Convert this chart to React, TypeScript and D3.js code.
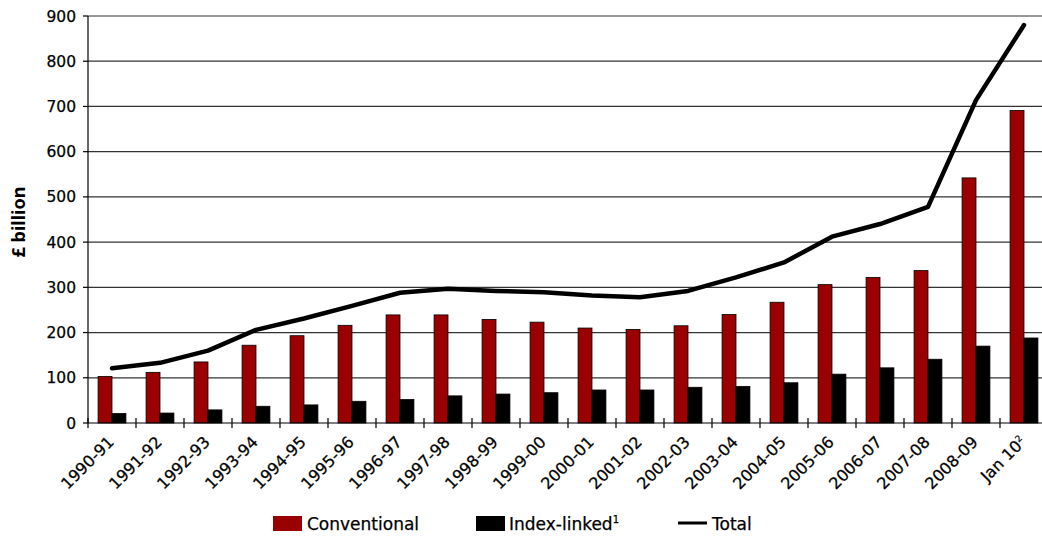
import React from "react";
import * as d3 from "d3";

const categories = [
  "1990-91", "1991-92", "1992-93", "1993-94", "1994-95", "1995-96", "1996-97",
  "1997-98", "1998-99", "1999-00", "2000-01", "2001-02", "2002-03", "2003-04",
  "2004-05", "2005-06", "2006-07", "2007-08", "2008-09", "Jan 10",
];
const conventional = [103, 112, 135, 172, 193, 216, 239, 239, 229, 223, 210, 207, 215, 240, 267, 306, 322, 337, 542, 691];
const indexLinked = [21, 22, 29, 37, 40, 48, 52, 60, 64, 67, 73, 73, 79, 81, 89, 108, 122, 141, 170, 188];
const total = [121, 133, 160, 206, 231, 259, 288, 297, 292, 289, 282, 278, 292, 322, 355, 412, 440, 478, 714, 880];
const yTicks = [0, 100, 200, 300, 400, 500, 600, 700, 800, 900];

const W = 1042;
const H = 537;
const left = 88;
const right = 1048;
const top = 16;
const bottom = 423;
const font = "'DejaVu Sans', Verdana, sans-serif";
const RED = "#9b0000";

export default function App() {
  const x = d3.scaleBand<string>().domain(categories).range([left, right]);
  const y = d3.scaleLinear().domain([0, 900]).range([bottom, top]);
  const bw = x.bandwidth();
  const barW = bw * 0.29;
  const line = d3
    .line<number>()
    .x((_, i) => (x(categories[i]) as number) + bw / 2)
    .y((d) => y(d));

  return (
    <svg width={W} height={H} style={{ position: "absolute", left: 0, top: 0, fontFamily: font }}>
      <rect x={0} y={0} width={W} height={H} fill="#fff" />
      {yTicks.map((t) => (
        <g key={t}>
          {t > 0 && <line x1={left} x2={right} y1={y(t)} y2={y(t)} stroke="#333" strokeWidth={1.2} />}
          <line x1={left - 5} x2={left} y1={y(t)} y2={y(t)} stroke="#000" strokeWidth={1.2} />
          <text x={left - 12} y={y(t)} dy="0.36em" textAnchor="end" fontSize={15.5} fill="#000" stroke="#000" strokeWidth={0.25}>
            {t}
          </text>
        </g>
      ))}
      {categories.map((c, i) => {
        const x0 = x(c) as number;
        const cx = x0 + bw / 2;
        return (
          <g key={c}>
            <rect x={cx - barW} y={y(conventional[i])} width={barW} height={bottom - y(conventional[i])} fill={RED} stroke="#000" strokeWidth={0.8} />
            <rect x={cx} y={y(indexLinked[i])} width={barW} height={bottom - y(indexLinked[i])} fill="#000" stroke="#000" strokeWidth={0.8} />
          </g>
        );
      })}
      <line x1={left} x2={left} y1={top} y2={bottom} stroke="#000" strokeWidth={1.2} />
      <line x1={left} x2={right} y1={bottom} y2={bottom} stroke="#000" strokeWidth={1.2} />
      {categories.map((c) => {
        const x0 = x(c) as number;
        return <line key={"t" + c} x1={x0} x2={x0} y1={bottom - 5} y2={bottom + 5} stroke="#000" strokeWidth={1.2} />;
      })}
      <path d={line(total) || ""} fill="none" stroke="#000" strokeWidth={4.5} strokeLinejoin="round" strokeLinecap="round" />
      {categories.map((c) => {
        const cx = (x(c) as number) + bw / 2 + 3;
        const ty = 443;
        const isJan = c === "Jan 10";
        return (
          <text key={"l" + c} transform={`translate(${cx},${ty}) rotate(-45)`} textAnchor="end" fontSize={16} fill="#000" stroke="#000" strokeWidth={0.25}>
            {isJan ? (
              <>
                Jan 10<tspan fontSize={9} dy={-6}>2</tspan>
              </>
            ) : (
              c
            )}
          </text>
        );
      })}
      <text transform={`translate(25,222) rotate(-90)`} textAnchor="middle" fontSize={18} fontWeight="bold" fill="#000" style={{ fontFamily: "'Noto Sans', sans-serif" }}>
        £ billion
      </text>
      <g fontSize={17} fill="#000">
        <rect x={273} y={516} width={29} height={15} fill={RED} />
        <text x={307} y={530} stroke="#000" strokeWidth={0.25}>Conventional</text>
        <rect x={476} y={516} width={29} height={15} fill="#000" />
        <text x={509} y={530} stroke="#000" strokeWidth={0.25}>
          Index-linked<tspan fontSize={10} dy={-7}>1</tspan>
        </text>
        <line x1={678} x2={707} y1={523} y2={523} stroke="#000" strokeWidth={3} />
        <text x={712} y={530} stroke="#000" strokeWidth={0.25}>Total</text>
      </g>
    </svg>
  );
}
